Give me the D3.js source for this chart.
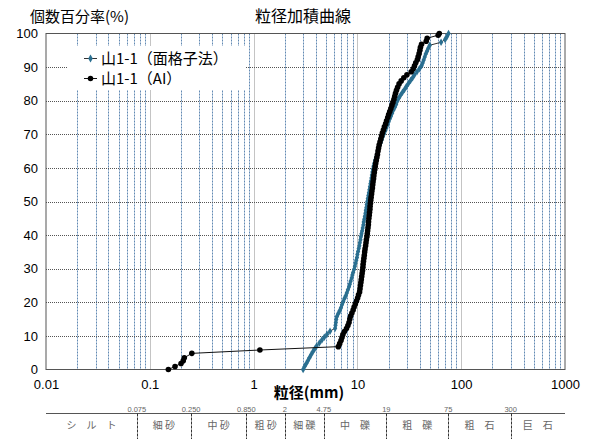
<!DOCTYPE html>
<html>
<head>
<meta charset="utf-8">
<script src="https://cdn.jsdelivr.net/npm/d3@7"></script>
<style>
  body { margin: 0; background: #fff; }
  svg { display: block; }
  text { font-family: 'Liberation Sans', Arial, sans-serif; fill: #000; }
  .jp { font-family: 'Noto Sans CJK JP', sans-serif; }
</style>
</head>
<body>
<div id="chart"></div>
<script>
// data: [size mm, cumulative %]
const gridSeries = [
  [3.0, 0], [3.1, 0.9], [3.22, 1.8], [3.33, 2.6], [3.45, 3.5], [3.58, 4.4], [3.72, 5.3], [3.87, 6.1],
  [4.05, 7.0], [4.3, 7.9], [4.55, 8.8], [4.8, 9.6], [5.1, 10.5], [5.45, 11.4], [6.1, 12.3], [6.15, 13.2],
  [6.2, 14.0], [6.25, 14.9], [6.35, 15.8], [6.55, 16.7], [6.75, 17.5], [6.95, 18.4], [7.1, 19.3], [7.3, 20.2],
  [7.5, 21.1], [7.7, 21.9], [7.9, 22.8], [8.1, 23.7], [8.3, 24.6], [8.45, 25.4], [8.6, 26.3], [8.8, 27.2],
  [8.95, 28.1], [9.1, 28.9], [9.3, 29.8], [9.45, 30.7], [9.6, 31.6], [9.75, 32.5], [9.9, 33.3], [10.0, 34.2],
  [10.15, 35.1], [10.3, 36.0], [10.45, 36.8], [10.55, 37.7], [10.7, 38.6], [10.8, 39.5], [10.95, 40.4], [11.1, 41.2],
  [11.25, 42.1], [11.4, 43.0], [11.5, 43.9], [11.65, 44.7], [11.8, 45.6], [11.95, 46.5], [12.05, 47.4], [12.2, 48.2],
  [12.3, 49.1], [12.45, 50.0], [12.6, 50.9], [12.75, 51.8], [12.9, 52.6], [13.05, 53.5], [13.2, 54.4], [13.35, 55.3],
  [13.5, 56.1], [13.65, 57.0], [13.8, 57.9], [13.95, 58.8], [14.1, 59.6], [14.3, 60.5], [14.55, 61.4], [14.8, 62.3],
  [15.1, 63.2], [15.4, 64.0], [15.7, 64.9], [16.0, 65.8], [16.4, 66.7], [16.8, 67.5], [17.2, 68.4], [17.6, 69.3],
  [18.1, 70.2], [18.6, 71.1], [19.0, 71.9], [19.5, 72.8], [20.0, 73.7], [20.5, 74.6], [21.0, 75.4], [21.6, 76.3],
  [22.2, 77.2], [23.0, 78.1], [23.6, 78.9], [24.2, 79.8], [25.0, 80.7], [26.0, 81.6], [27.2, 82.5], [28.4, 83.3],
  [29.6, 84.2], [31.0, 85.1], [32.5, 86.0], [34.0, 86.8], [35.5, 87.7], [37.5, 88.6], [39.5, 89.5], [41.5, 90.4],
  [42.5, 91.2], [43.5, 92.1], [44.5, 93.0], [45.5, 93.9], [46.8, 94.7], [48.2, 95.6], [49.8, 96.5], [64.0, 97.4],
  [70.0, 98.2], [73.0, 99.1], [75.5, 100]
]

const aiSeries = [
  [0.151, 0], [0.175, 0.9], [0.2, 1.8], [0.21, 2.6], [0.215, 3.5], [0.254, 4.8], [1.15, 5.8], [6.55, 6.8],
  [6.75, 7.7], [6.95, 8.6], [7.1, 9.5], [7.25, 10.4], [7.5, 11.3], [7.85, 12.2], [8.1, 13.1], [8.3, 14.0],
  [8.45, 15.0], [8.6, 15.9], [8.85, 16.8], [9.1, 17.7], [9.3, 18.6], [9.55, 19.5], [9.8, 20.4], [10.05, 21.3],
  [10.25, 22.2], [10.5, 23.1], [10.6, 24.0], [10.7, 25.0], [10.8, 25.9], [10.9, 26.8], [11.0, 27.7], [11.1, 28.6],
  [11.2, 29.5], [11.3, 30.4], [11.35, 31.3], [11.45, 32.2], [11.55, 33.1], [11.65, 34.0], [11.75, 35.0], [11.85, 35.9],
  [12.0, 36.8], [12.1, 37.7], [12.2, 38.6], [12.35, 39.5], [12.45, 40.4], [12.55, 41.3], [12.65, 42.2], [12.75, 43.1],
  [12.8, 44.0], [12.9, 45.0], [13.0, 45.9], [13.1, 46.8], [13.2, 47.7], [13.25, 48.6], [13.35, 49.5], [13.45, 50.4],
  [13.55, 51.3], [13.7, 52.2], [13.8, 53.1], [13.95, 54.0], [14.05, 55.0], [14.15, 55.9], [14.3, 56.8], [14.4, 57.7],
  [14.55, 58.6], [14.7, 59.5], [14.85, 60.4], [15.0, 61.3], [15.2, 62.2], [15.4, 63.1], [15.6, 64.0], [15.8, 65.0],
  [16.0, 65.9], [16.2, 66.8], [16.5, 67.7], [16.8, 68.6], [17.1, 69.5], [17.4, 70.4], [17.8, 71.3], [18.2, 72.2],
  [18.7, 73.1], [19.1, 74.0], [19.6, 75.0], [20.0, 75.9], [20.5, 76.8], [21.0, 77.7], [21.5, 78.6], [22.0, 79.5],
  [22.5, 80.4], [22.9, 81.3], [23.3, 82.2], [23.8, 83.1], [24.4, 84.0], [25.2, 85.0], [26.4, 85.9], [28.0, 86.8],
  [30.0, 87.7], [33.0, 88.6], [34.5, 89.5], [35.5, 90.4], [36.5, 91.3], [37.8, 92.2], [38.5, 93.1], [39.3, 94.0],
  [40.0, 95.0], [40.5, 95.9], [41.5, 96.8], [46.0, 97.7], [47.0, 98.6], [60.0, 99.5], [61.5, 100]
]

const seriesNames = ['山1-1（面格子法）', '山1-1（AI）']
const xTicks = [0.01, 0.1, 1, 10, 100, 1000]
const yTicks = [0, 10, 20, 30, 40, 50, 60, 70, 80, 90, 100]
const classBounds = [0.075, 0.25, 0.85, 2, 4.75, 19, 75, 300]
const boundLabels = ['0.075', '0.250', '0.850', '2', '4.75', '19', '75', '300']
const classNames = ['シ　ル　ト', '細 砂', '中 砂', '粗 砂', '細 礫', '中　礫', '粗　礫', '粗　石', '巨　石']

const width = 592
const height = 439
const margin = { top: 33.5, right: 27, bottom: 69.5, left: 46 }

const x = d3.scaleLog()
  .domain([0.01, 1000])
  .range([margin.left, width - margin.right])
const y = d3.scaleLinear()
  .domain([0, 100])
  .range([height - margin.bottom, margin.top])

const svg = d3.select('#chart')
  .append('svg')
  .attr('width', width)
  .attr('height', height)

drawGrid()
drawSeries()
drawAxes()
drawLegend()
drawClassTable()

function drawGrid() {
  const g = svg.append('g').attr('class', 'grid')
  const minor = x.ticks().filter(d => !xTicks.includes(d))

  g.selectAll('.minor')
    .data(minor)
    .enter()
    .append('line')
    .attr('x1', d => Math.round(x(d)) + 0.5)
    .attr('x2', d => Math.round(x(d)) + 0.5)
    .attr('y1', y(100))
    .attr('y2', y(0))
    .attr('stroke', '#6189b3')
    .attr('stroke-dasharray', '2,1')

  g.selectAll('.major-x')
    .data(xTicks.slice(1, -1))
    .enter()
    .append('line')
    .attr('x1', d => Math.round(x(d)) + 0.5)
    .attr('x2', d => Math.round(x(d)) + 0.5)
    .attr('y1', y(100))
    .attr('y2', y(0))
    .attr('stroke', '#888')
    .attr('stroke-dasharray', '1,1')

  g.selectAll('.major-y')
    .data(yTicks.slice(1, -1))
    .enter()
    .append('line')
    .attr('x1', x(0.01))
    .attr('x2', x(1000))
    .attr('y1', d => Math.round(y(d)) + 0.5)
    .attr('y2', d => Math.round(y(d)) + 0.5)
    .attr('stroke', '#555')
    .attr('stroke-dasharray', '1,1')

  g.append('rect')
    .attr('x', x(0.01))
    .attr('y', y(100))
    .attr('width', x(1000) - x(0.01))
    .attr('height', y(0) - y(100))
    .attr('fill', 'none')
    .attr('stroke', '#555')
}

function drawSeries() {
  const line = d3.line()
    .x(d => x(d[0]))
    .y(d => y(d[1]))

  svg.append('path')
    .datum(gridSeries)
    .attr('d', line)
    .attr('fill', 'none')
    .attr('stroke', '#333')
    .attr('stroke-width', 1)

  svg.append('g')
    .selectAll('path')
    .data(gridSeries)
    .enter()
    .append('path')
    .attr('d', d3.symbol(d3.symbolDiamond, 16))
    .attr('transform', d => 'translate(' + x(d[0]) + ',' + y(d[1]) + ')')
    .attr('fill', '#2a6f90')

  svg.append('path')
    .datum(aiSeries)
    .attr('d', line)
    .attr('fill', 'none')
    .attr('stroke', '#111')
    .attr('stroke-width', 1)

  svg.append('g')
    .selectAll('circle')
    .data(aiSeries)
    .enter()
    .append('circle')
    .attr('cx', d => x(d[0]))
    .attr('cy', d => y(d[1]))
    .attr('r', 2.8)
    .attr('fill', '#000')
}

function drawAxes() {
  const yAxis = svg.append('g')
    .attr('transform', 'translate(' + margin.left + ',0)')
    .call(d3.axisLeft(y).tickValues(yTicks).tickSize(0).tickPadding(8))
  yAxis.select('.domain').remove()
  yAxis.selectAll('text').attr('font-size', 13).attr('font-family', 'Liberation Sans, Arial')

  const xAxis = svg.append('g')
    .attr('transform', 'translate(0,' + y(0) + ')')
    .call(d3.axisBottom(x).tickValues(xTicks).tickFormat(d => String(d)).tickSize(0).tickPadding(10))
  xAxis.select('.domain').remove()
  xAxis.selectAll('text').attr('font-size', 13).attr('font-family', 'Liberation Sans, Arial')

  svg.append('text')
    .attr('class', 'jp')
    .attr('x', 303)
    .attr('y', 22)
    .attr('text-anchor', 'middle')
    .attr('font-size', 16)
    .text('粒径加積曲線')

  svg.append('text')
    .attr('class', 'jp')
    .attr('x', 30)
    .attr('y', 22)
    .attr('font-size', 15)
    .text('個数百分率(%)')

  svg.append('text')
    .attr('class', 'jp')
    .attr('x', 309)
    .attr('y', 398)
    .attr('text-anchor', 'middle')
    .attr('font-size', 15)
    .attr('font-weight', 'bold')
    .text('粒径(mm)')
}

function drawLegend() {
  const g = svg.append('g').attr('transform', 'translate(68,46)')
  g.append('rect')
    .attr('width', 178)
    .attr('height', 44)
    .attr('fill', '#fff')

  const items = g.selectAll('.item')
    .data(seriesNames)
    .enter()
    .append('g')
    .attr('transform', (d, i) => 'translate(0,' + (12.5 + i * 20) + ')')

  items.append('line')
    .attr('x1', 16)
    .attr('x2', 29)
    .attr('stroke', (d, i) => (i === 0 ? '#333' : '#111'))

  items.append('path')
    .attr('d', (d, i) => d3.symbol(i === 0 ? d3.symbolDiamond : d3.symbolCircle, i === 0 ? 18 : 24)())
    .attr('transform', 'translate(22.5,0)')
    .attr('fill', (d, i) => (i === 0 ? '#2a6f90' : '#000'))

  items.append('text')
    .attr('class', 'jp')
    .attr('x', 33)
    .attr('y', 5.5)
    .attr('font-size', 15)
    .text(d => d)
}

function drawClassTable() {
  const top = 413.5
  const g = svg.append('g').attr('class', 'class-table')

  g.append('line')
    .attr('x1', x(0.01))
    .attr('x2', x(1000))
    .attr('y1', top)
    .attr('y2', top)
    .attr('stroke', '#555')

  g.selectAll('.bound')
    .data(classBounds)
    .enter()
    .append('line')
    .attr('x1', d => Math.round(x(d)) + 0.5)
    .attr('x2', d => Math.round(x(d)) + 0.5)
    .attr('y1', top)
    .attr('y2', height)
    .attr('stroke', '#333')
    .attr('stroke-dasharray', '3,1')

  g.selectAll('.bound-label')
    .data(classBounds)
    .enter()
    .append('text')
    .attr('x', d => x(d))
    .attr('y', 411.5)
    .attr('text-anchor', 'middle')
    .attr('font-size', 7.5)
    .attr('font-family', 'DejaVu Serif, serif')
    .style('fill', '#666')
    .text((d, i) => boundLabels[i])

  const edges = [0.01].concat(classBounds, [1000])
  g.selectAll('.class-name')
    .data(classNames)
    .enter()
    .append('text')
    .attr('class', 'jp')
    .attr('x', (d, i) => (x(edges[i]) + x(edges[i + 1])) / 2)
    .attr('y', 429)
    .attr('text-anchor', 'middle')
    .attr('font-size', 10)
    .style('fill', '#666')
    .text(d => d)
}
</script>
</body>
</html>
